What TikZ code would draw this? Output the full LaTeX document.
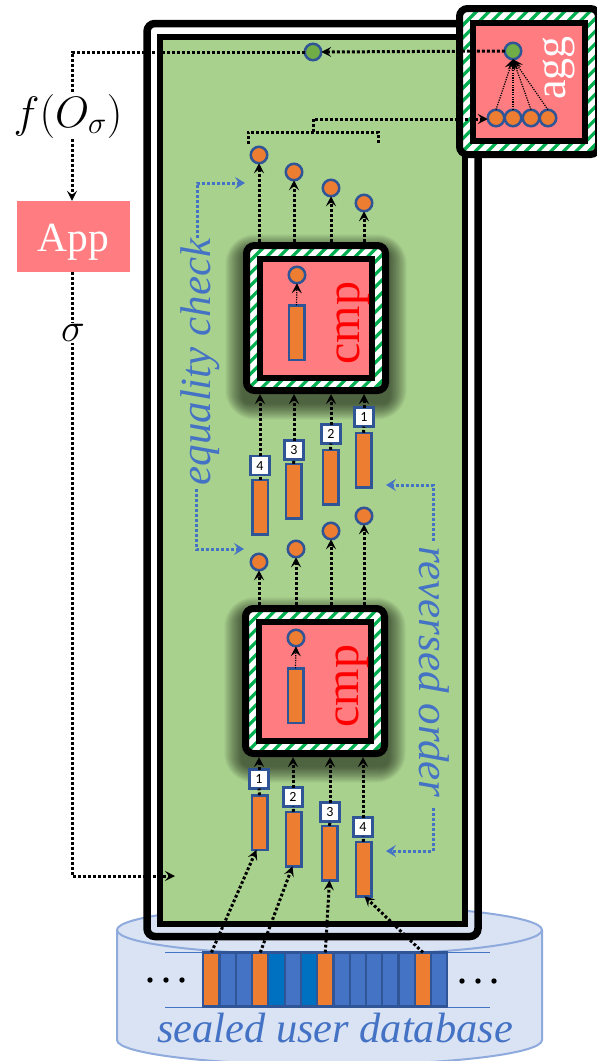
\documentclass[tikz,border=0pt]{standalone}
\usepackage{fix-cm}
\usepackage{fontspec}
\setmainfont{Liberation Serif}
\newfontfamily\lblfont{Carlito}
\usetikzlibrary{arrows.meta}
\definecolor{grn}{HTML}{A9D18E}
\definecolor{pnk}{HTML}{FF7C80}
\definecolor{org}{HTML}{ED7D31}
\definecolor{bdr}{HTML}{2F5597}
\definecolor{blu}{HTML}{4472C4}
\definecolor{dbl}{HTML}{0070C0}
\definecolor{lgn}{HTML}{70AD47}
\definecolor{stp}{HTML}{00B050}
\definecolor{cylf}{HTML}{DAE3F3}
\definecolor{cyld}{HTML}{8FAADC}
\tikzset{
  x=1pt,y=-1pt,
  dotarrow/.style={line width=3pt,dash pattern=on 2.8pt off 2.2pt,-{Stealth[length=10pt,width=10pt,inset=4pt]}},
  dotline/.style={line width=3pt,dash pattern=on 2.8pt off 2.2pt},
  thinarrow/.style={line width=1.2pt,dash pattern=on 1.2pt off 1.2pt,-{Stealth[length=10pt,width=10pt,inset=4pt]}},
  bluearrow/.style={blu,line width=3pt,dash pattern=on 2.8pt off 2.2pt,-{Stealth[length=10pt,width=12pt,inset=4pt]}},
  dotc/.style={circle,draw=bdr,line width=2.5pt,fill=org,minimum size=16.5pt,inner sep=0pt,outer sep=0pt},
  bar/.style={rectangle,draw=bdr,line width=2.5pt,fill=org,minimum width=15.5pt,minimum height=54.5pt,inner sep=0pt,outer sep=0pt},
  tag/.style={rectangle,draw=bdr,line width=2.5pt,fill=white,minimum size=19pt,inner sep=0pt,outer sep=0pt,font=\lblfont\fontsize{14}{14}\selectfont,text=black},
  cell/.style={rectangle,draw=bdr,line width=2.2pt,minimum width=16.27pt,minimum height=54pt,inner sep=0pt,outer sep=0pt},
  sdot/.style={circle,fill=black,minimum size=5.4pt,inner sep=0pt,outer sep=0pt},
  striped/.style={rectangle,draw=black,line width=7pt,fill=white,rounded corners=8pt,inner sep=0pt,minimum width=139pt,
    path picture={\foreach \k in {-14,...,14}{\draw[stp,line width=3.2pt]([xshift=\k*12.6pt]path picture bounding box.south west)--++(200,-200);}}},
  core/.style={rectangle,draw=black,line width=6pt,fill=pnk,inner sep=0pt,minimum width=112pt},
  btext/.style={blu,font=\fontsize{43}{43}\selectfont\itshape,inner sep=0pt},
}
\begin{document}
\begin{tikzpicture}
\clip (0,0) rectangle (597,1061);
\fill[white] (0,0) rectangle (597,1061);

% cylinder
\draw[cyld,line width=2pt,fill=cylf] (117,930) -- (117,1040) arc[start angle=180,end angle=360,x radius=212.5pt,y radius=25pt] -- (542,930);
\draw[cyld,line width=2pt,fill=cylf] (329.5,930) ellipse [x radius=212.5pt,y radius=25pt];
\draw[blu,line width=1pt] (165,952) -- (490,952);
\draw[blu,line width=1pt] (165,1007) -- (490,1007);
\foreach \i/\c in {1/org,2/blu,3/blu,4/org,5/dbl,6/blu,7/dbl,8/org,9/blu,10/blu,11/blu,12/blu,13/blu,14/org,15/blu}{
  \node[cell,fill=\c] (db\i) at ({203.3+(\i-.5)*16.27},979.5) {};
}
\node[sdot] (dl1) at (150,980) {};
\node[sdot] (dl2) at (166,980) {};
\node[sdot] (dl3) at (182,980) {};
\node[sdot] (dr1) at (462,981) {};
\node[sdot] (dr2) at (478,981) {};
\node[sdot] (dr3) at (494,981) {};
\node[btext,anchor=base,font=\fontsize{42.4}{43}\selectfont\itshape] (dbtext) at (335,1042) {sealed user database};

% enclave
\node[rectangle,draw=black,line width=7.5pt,rounded corners=8pt,minimum width=331pt,minimum height=913pt,inner sep=0pt] (outer) at (312.5,480) {};
\node[rectangle,draw=black,line width=6pt,fill=grn,minimum width=305pt,minimum height=887pt,inner sep=0pt] (inner) at (312.5,480.5) {};

% shadows
\foreach \s in {1,...,24}{
  \fill[black,opacity=.028,rounded corners={6+\s}] ({243-\s*.75},{242-\s*.7+9}) rectangle ({389+\s*.75},{394+\s*.7+9});
  \fill[black,opacity=.028,rounded corners={6+\s}] ({242-\s*.75},{605-\s*.7+9}) rectangle ({388+\s*.75},{757+\s*.7+9});
}

% cmp boxes
\node[striped,minimum height=145pt] (cmpA) at (316,318) {};
\node[core,minimum height=119pt] (coreA) at (316,318.5) {};
\node[rotate=90,text=red,font=\fontsize{48}{48}\selectfont,inner sep=0pt] (cmpAt) at (353,323) {cmp};
\node[bar] (iA) at (296.5,332.5) {};
\node[dotc] (oA) at (297,275) {};
\draw[thinarrow] (iA.north) -- (oA.south);

\node[striped,minimum height=145pt] (cmpB) at (315,681) {};
\node[core,minimum height=119pt] (coreB) at (315,681.5) {};
\node[rotate=90,text=red,font=\fontsize{48}{48}\selectfont,inner sep=0pt] (cmpBt) at (352,686) {cmp};
\node[bar] (iB) at (295.5,695.5) {};
\node[dotc] (oB) at (296,638) {};
\draw[thinarrow] (iB.north) -- (oB.south);

% agg box
\node[striped,minimum height=146pt] (aggO) at (529,81.5) {};
\node[core,minimum height=118pt] (aggI) at (529,82) {};
\node[rotate=90,text=white,font=\fontsize{44}{44}\selectfont,inner sep=0pt] (aggt) at (559,68) {agg};
\node[dotc,fill=lgn] (ag) at (513,51) {};
\node[dotc] (s1) at (496,118) {};
\node[dotc] (s2) at (513,118) {};
\node[dotc] (s3) at (531,118) {};
\node[dotc] (s4) at (548,118) {};
\foreach \n in {1,2,3,4}{\draw[thinarrow] (s\n.north) -- (ag.south);}

% circles and bars
\node[dotc,fill=lgn] (tg) at (313,52) {};
\node[dotc] (t4) at (259,155) {};
\node[dotc] (t3) at (294,172) {};
\node[dotc] (t2) at (331,188) {};
\node[dotc] (t1) at (364,203) {};
\node[dotc] (m4) at (259,562) {};
\node[dotc] (m3) at (296,549) {};
\node[dotc] (m2) at (331,531) {};
\node[dotc] (m1) at (364,516) {};
\node[bar] (rm4) at (260,507) {};
\node[bar] (rm3) at (293.5,491) {};
\node[bar] (rm2) at (330.5,477) {};
\node[bar] (rm1) at (363.5,460) {};
\node[bar] (rb1) at (259.5,822.5) {};
\node[bar] (rb2) at (293.5,839) {};
\node[bar] (rb3) at (329.5,853) {};
\node[bar] (rb4) at (363.5,869) {};
\node[tag] (lm4) at (260,465.5) {4};
\node[tag] (lm3) at (294,450) {3};
\node[tag] (lm2) at (331,434) {2};
\node[tag] (lm1) at (364,417) {1};
\node[tag] (lb1) at (259,779) {1};
\node[tag] (lb2) at (293,797) {2};
\node[tag] (lb3) at (330,812) {3};
\node[tag] (lb4) at (363,827) {4};

% connectors: database to bars
\draw[dotarrow] (db1.north) -- ([xshift=-3pt]rb1.south);
\draw[dotarrow] (db4.north) -- ([xshift=-1pt]rb2.south);
\draw[dotarrow] (db8.north) -- (rb3.south);
\draw[dotarrow] (db14.north) -- ([xshift=1pt]rb4.south);

% bottom bars to cmpB
\foreach \n in {1,2,3,4}{
  \draw[dotline] (rb\n.north) -- (lb\n.south);
  \draw[dotarrow] (lb\n.north) -- (lb\n |- cmpB.south);
}
% cmpB to circles
\foreach \n in {1,2,3,4}{
  \draw[dotarrow] (m\n |- cmpB.north) -- (m\n.south);
}
% middle bars to cmpA
\foreach \n in {1,2,3,4}{
  \draw[dotline] (rm\n.north) -- (lm\n.south);
  \draw[dotarrow] (lm\n.north) -- (lm\n |- cmpA.south);
}
% cmpA to top circles
\foreach \n in {1,2,3,4}{
  \draw[dotarrow] (t\n |- cmpA.north) -- (t\n.south);
}

% aggregation bracket
\coordinate (ba) at (248,144);
\coordinate (bb) at (378,144);
\coordinate (bc) at (248,132);
\coordinate (bd) at (378,132);
\coordinate (be) at (313,132);
\coordinate (bf) at (313,119);
\draw[dotline] (ba) -- (bc) -- (bd) -- (bb);
\draw[dotarrow] (be) -- (bf) -- (s1.west |- bf);

% agg to green, green to App, App to enclave
\draw[dotarrow] (ag.west) -- (tg.east);
\node[rectangle,fill=pnk,minimum width=113pt,minimum height=71pt,inner sep=0pt,text=white,font=\fontsize{41.5}{42}\selectfont] (app) at (73.5,236.5) {\raisebox{-14.5pt}[0pt][0pt]{App}};
\coordinate (lc) at (72,52);
\coordinate (ld) at (72,876);
\coordinate (le) at (175,876);
\draw[dotarrow] (tg.west) -- (lc) -- (lc |- app.north);
\draw[dotarrow] (lc |- app.south) -- (ld) -- (le);
\node[fill=white,inner sep=1pt,font=\fontsize{44}{44}\selectfont] (ftext) at (68,116) {$f(O_\sigma)$};
\node[fill=white,inner sep=1pt,font=\fontsize{40}{40}\selectfont] (stext) at (73,333) {$\sigma$};

% blue annotations
\node[btext,rotate=90] (eq) at (200,362) {equality check};
\node[btext,rotate=-90] (ro) at (434,672) {reversed order};
\coordinate (q1) at (197,238);
\coordinate (q2) at (197,183);
\coordinate (q3) at (245,183);
\coordinate (q4) at (196,489);
\coordinate (q5) at (196,549);
\coordinate (q6) at (244,549);
\draw[bluearrow] (q1) -- (q2) -- (q3);
\draw[bluearrow] (q4) -- (q5) -- (q6);
\coordinate (r1) at (433,541);
\coordinate (r2) at (433,485);
\coordinate (r3) at (386,485);
\coordinate (r4) at (433,808);
\coordinate (r5) at (433,851);
\coordinate (r6) at (386,851);
\draw[bluearrow] (r1) -- (r2) -- (r3);
\draw[bluearrow] (r4) -- (r5) -- (r6);
\end{tikzpicture}
\end{document}
